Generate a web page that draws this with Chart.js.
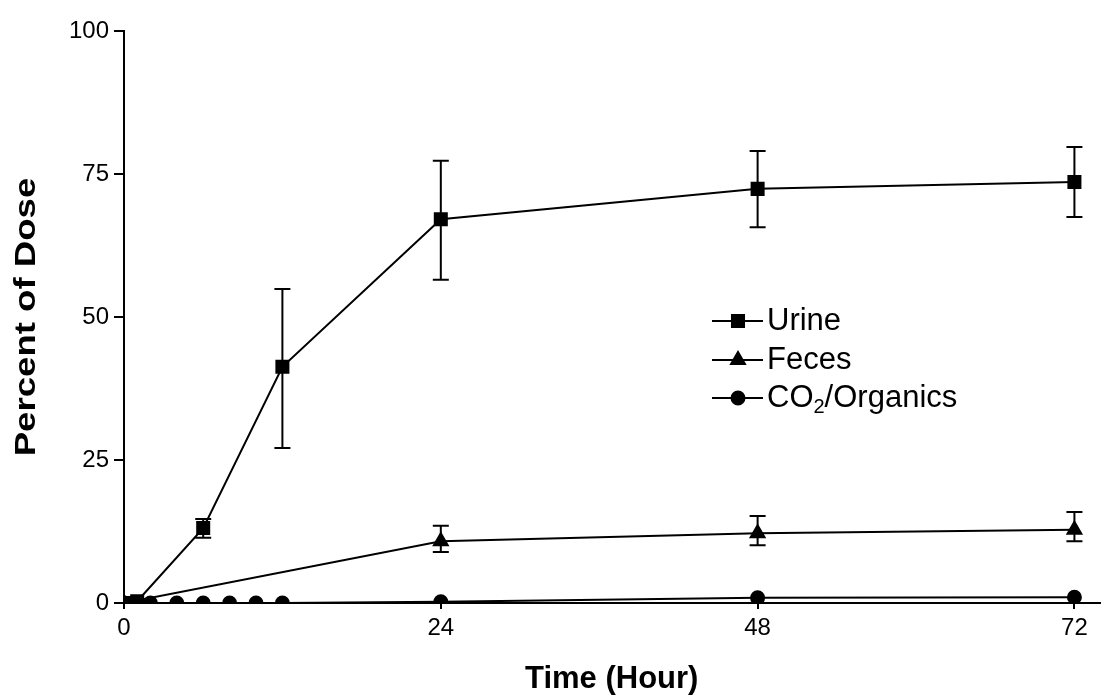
<!DOCTYPE html>
<html>
<head>
<meta charset="utf-8">
<script src="https://cdn.jsdelivr.net/npm/chart.js@4.4.1/dist/chart.umd.min.js"></script>
<style>
  html, body { margin: 0; padding: 0; background: #fff; }
  #wrap { width: 1110px; height: 698px; position: relative; }
</style>
</head>
<body>
<div id="wrap"><canvas id="dose-chart"></canvas></div>
<script>
// =============================================
// Excretion of dose over time (urine / feces / CO2)
// =============================================

const xTicks = [0, 24, 48, 72];
const yTicks = [0, 25, 50, 75, 100];

const urineHours = [0, 1, 6, 12, 24, 48, 72];
const urineMean  = [0, 0.3, 13.1, 41.3, 67.1, 72.4, 73.6];
const urineHigh  = [null, null, 14.7, 54.9, 77.3, 79.0, 79.7];
const urineLow   = [null, null, 11.4, 27.1, 56.5, 65.7, 67.5];

const fecesHours = [0, 24, 48, 72];
const fecesMean  = [0, 10.8, 12.2, 12.8];
const fecesHigh  = [null, 13.5, 15.2, 15.9];
const fecesLow   = [null, 8.9, 10.1, 10.8];

const co2Hours = [0, 1, 2, 4, 6, 8, 10, 12, 24, 48, 72];
const co2Mean  = [0, 0, 0, 0, 0, 0, 0, 0, 0.2, 0.9, 1.0];

const FONT = '"Liberation Sans", Arial, Helvetica, sans-serif';

function pts(xs, ys) {
  return xs.map((x, i) => ({ x: x, y: ys[i] }));
}

// vertical error bars with caps
const errorBars = {
  id: 'errorBars',
  afterDatasetsDraw(chart) {
    const ctx = chart.ctx;
    const xs = chart.scales.x, ys = chart.scales.y;
    ctx.save();
    ctx.strokeStyle = '#000';
    ctx.lineWidth = 2;
    chart.data.datasets.forEach(ds => {
      if (!ds.errHigh) return;
      ds.data.forEach((p, i) => {
        const hi = ds.errHigh[i], lo = ds.errLow[i];
        if (hi == null || lo == null) return;
        const px = xs.getPixelForValue(p.x);
        const pHi = ys.getPixelForValue(hi);
        const pLo = ys.getPixelForValue(lo);
        ctx.beginPath();
        ctx.moveTo(px, pHi); ctx.lineTo(px, pLo);
        ctx.moveTo(px - 8, pHi); ctx.lineTo(px + 8, pHi);
        ctx.moveTo(px - 8, pLo); ctx.lineTo(px + 8, pLo);
        ctx.stroke();
      });
    });
    ctx.restore();
  }
};

// y title is a bit stretched along its length in the original
const yTitle = {
  id: 'yTitle',
  afterDraw(chart) {
    const ctx = chart.ctx;
    const a = chart.chartArea;
    ctx.save();
    ctx.translate(27, (a.top + a.bottom) / 2);
    ctx.rotate(-Math.PI / 2);
    ctx.scale(1.22, 1);
    ctx.font = 'bold 30px ' + FONT;
    ctx.fillStyle = '#000';
    ctx.textAlign = 'center';
    ctx.textBaseline = 'middle';
    ctx.fillText('Percent of Dose', 0, 0);
    ctx.restore();
  }
};

// legend drawn inside plot area, CO2 with a subscript
const innerLegend = {
  id: 'innerLegend',
  afterDraw(chart) {
    const ctx = chart.ctx;
    const left = 712, textX = 767;
    const rows = [
      { y: 321, label: ['Urine'], ds: 0 },
      { y: 360, label: ['Feces'], ds: 1 },
      { y: 398, label: ['CO', '2', '/Organics'], ds: 2 }
    ];
    ctx.save();
    ctx.strokeStyle = '#000';
    ctx.fillStyle = '#000';
    ctx.lineWidth = 2;
    rows.forEach(r => {
      const ds = chart.data.datasets[r.ds];
      ctx.beginPath();
      ctx.moveTo(left, r.y); ctx.lineTo(763, r.y);
      ctx.stroke();
      Chart.helpers.drawPoint(ctx, { pointStyle: ds.pointStyle, radius: ds.pointRadius, borderWidth: 1 }, 738, r.y);
      ctx.textBaseline = 'middle';
      ctx.textAlign = 'left';
      let x = textX;
      r.label.forEach((part, k) => {
        const sub = r.label.length > 1 && k === 1;
        ctx.font = (sub ? 20 : 31) + 'px ' + FONT;
        ctx.fillText(part, x, sub ? r.y + 9 : r.y);
        x += ctx.measureText(part).width;
      });
    });
    ctx.restore();
  }
};

const common = {
  borderColor: '#000',
  backgroundColor: '#000',
  pointBorderColor: '#000',
  pointBackgroundColor: '#000',
  borderWidth: 2,
  showLine: true,
  tension: 0
};

new Chart(document.getElementById('dose-chart'), {
  type: 'scatter',
  data: {
    datasets: [
      Object.assign({ label: 'Urine', data: pts(urineHours, urineMean), pointStyle: 'rect', pointRadius: 8.5,
        errHigh: urineHigh, errLow: urineLow }, common),
      Object.assign({ label: 'Feces', data: pts(fecesHours, fecesMean), pointStyle: 'triangle', pointRadius: 8,
        errHigh: fecesHigh, errLow: fecesLow }, common),
      Object.assign({ label: 'CO2/Organics', data: pts(co2Hours, co2Mean), pointStyle: 'circle', pointRadius: 6.5 }, common)
    ]
  },
  options: {
    responsive: true, maintainAspectRatio: false,
    animation: false,
    layout: { padding: { top: 31, right: 0, left: 0, bottom: 0 } },
    plugins: { legend: { display: false }, tooltip: { enabled: false } },
    scales: {
      x: {
        type: 'linear', min: 0, max: 73.9,
        afterBuildTicks: s => { s.ticks = xTicks.map(v => ({ value: v })); },
        afterFit: s => { s.height = 95; },
        grid: { display: true, drawOnChartArea: false, drawTicks: true, tickLength: 6, color: '#000', lineWidth: 2 },
        border: { display: true, color: '#000', width: 2 },
        ticks: { color: '#000', font: { family: FONT, size: 24 }, padding: 5, maxRotation: 0 },
        title: { display: true, text: 'Time (Hour)', color: '#000', font: { family: FONT, size: 31, weight: 'bold' }, padding: { top: 0, bottom: 0 } }
      },
      y: {
        min: 0, max: 100,
        afterBuildTicks: s => { s.ticks = yTicks.map(v => ({ value: v })); },
        afterFit: s => { s.width = 124; },
        grid: { display: true, drawOnChartArea: false, drawTicks: true, tickLength: 10, color: '#000', lineWidth: 2 },
        border: { display: true, color: '#000', width: 2 },
        ticks: { color: '#000', font: { family: FONT, size: 24 }, padding: 5 },
        title: { display: false }
      }
    }
  },
  plugins: [errorBars, yTitle, innerLegend]
});
</script>
</body>
</html>
